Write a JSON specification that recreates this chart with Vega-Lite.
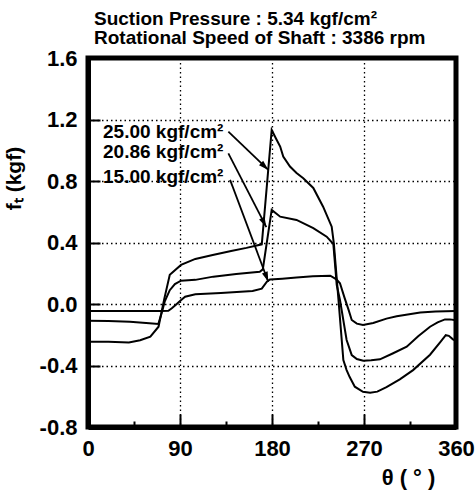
{
  "$schema": "https://vega.github.io/schema/vega-lite/v6.json",
  "width": 368,
  "height": 369,
  "autosize": {"type": "none"},
  "padding": {"left": 88, "top": 58, "right": 20, "bottom": 64},
  "background": "white",
  "title": {
    "text": ["Suction Pressure : 5.34 kgf/cm²", "Rotational Speed of Shaft : 3386 rpm"],
    "anchor": "start",
    "frame": "group",
    "dx": 6,
    "offset": -1,
    "fontSize": 19,
    "fontWeight": "bold",
    "lineHeight": 19,
    "color": "black",
    "font": "Liberation Sans"
  },
  "config": {
    "font": "Liberation Sans",
    "view": {"stroke": "black", "strokeWidth": 5},
    "axis": {
      "labelFont": "Liberation Sans",
      "labelFontSize": 22,
      "labelFontWeight": "bold",
      "labelColor": "black",
      "titleFont": "Liberation Sans",
      "titleFontSize": 21,
      "titleFontWeight": "bold",
      "titleColor": "black",
      "tickColor": "black",
      "gridColor": "black",
      "gridDash": [1.5, 3],
      "gridWidth": 1.3
    }
  },
  "datasets": {
    "curves": [
      {"p": "25.00", "theta": 0, "f": -0.245},
      {"p": "25.00", "theta": 20, "f": -0.245},
      {"p": "25.00", "theta": 40, "f": -0.25},
      {"p": "25.00", "theta": 51, "f": -0.236},
      {"p": "25.00", "theta": 61, "f": -0.213},
      {"p": "25.00", "theta": 69, "f": -0.148},
      {"p": "25.00", "theta": 74.5, "f": 0.03},
      {"p": "25.00", "theta": 80, "f": 0.19},
      {"p": "25.00", "theta": 91, "f": 0.254},
      {"p": "25.00", "theta": 105, "f": 0.293},
      {"p": "25.00", "theta": 122, "f": 0.319},
      {"p": "25.00", "theta": 140, "f": 0.345},
      {"p": "25.00", "theta": 155, "f": 0.365},
      {"p": "25.00", "theta": 170, "f": 0.388},
      {"p": "25.00", "theta": 179.7, "f": 1.132},
      {"p": "25.00", "theta": 184, "f": 1.075},
      {"p": "25.00", "theta": 188, "f": 1.024},
      {"p": "25.00", "theta": 191, "f": 0.959},
      {"p": "25.00", "theta": 197.6, "f": 0.894},
      {"p": "25.00", "theta": 204, "f": 0.852},
      {"p": "25.00", "theta": 210.6, "f": 0.818},
      {"p": "25.00", "theta": 220.4, "f": 0.755},
      {"p": "25.00", "theta": 230, "f": 0.633},
      {"p": "25.00", "theta": 238.4, "f": 0.503},
      {"p": "25.00", "theta": 240.5, "f": 0.395},
      {"p": "25.00", "theta": 245, "f": 0.03},
      {"p": "25.00", "theta": 249.8, "f": -0.364},
      {"p": "25.00", "theta": 253, "f": -0.43},
      {"p": "25.00", "theta": 256, "f": -0.475},
      {"p": "25.00", "theta": 261, "f": -0.538},
      {"p": "25.00", "theta": 269, "f": -0.571},
      {"p": "25.00", "theta": 276, "f": -0.577},
      {"p": "25.00", "theta": 283, "f": -0.57},
      {"p": "25.00", "theta": 292, "f": -0.54},
      {"p": "25.00", "theta": 305, "f": -0.49},
      {"p": "25.00", "theta": 318, "f": -0.43},
      {"p": "25.00", "theta": 334.6, "f": -0.33},
      {"p": "25.00", "theta": 345, "f": -0.245},
      {"p": "25.00", "theta": 350, "f": -0.203},
      {"p": "25.00", "theta": 353, "f": -0.207},
      {"p": "25.00", "theta": 357, "f": -0.23},
      {"p": "25.00", "theta": 360, "f": -0.24},
      {"p": "20.86", "theta": 0, "f": -0.109},
      {"p": "20.86", "theta": 20, "f": -0.11},
      {"p": "20.86", "theta": 41, "f": -0.115},
      {"p": "20.86", "theta": 60, "f": -0.125},
      {"p": "20.86", "theta": 68.8, "f": -0.13},
      {"p": "20.86", "theta": 72, "f": -0.06},
      {"p": "20.86", "theta": 75, "f": 0.015},
      {"p": "20.86", "theta": 80, "f": 0.09},
      {"p": "20.86", "theta": 85, "f": 0.13},
      {"p": "20.86", "theta": 91, "f": 0.152},
      {"p": "20.86", "theta": 105, "f": 0.157},
      {"p": "20.86", "theta": 122.6, "f": 0.178},
      {"p": "20.86", "theta": 145, "f": 0.195},
      {"p": "20.86", "theta": 168, "f": 0.21},
      {"p": "20.86", "theta": 171, "f": 0.225},
      {"p": "20.86", "theta": 179.7, "f": 0.612},
      {"p": "20.86", "theta": 188, "f": 0.568},
      {"p": "20.86", "theta": 204, "f": 0.547},
      {"p": "20.86", "theta": 220.4, "f": 0.493},
      {"p": "20.86", "theta": 233.5, "f": 0.438},
      {"p": "20.86", "theta": 240, "f": 0.39},
      {"p": "20.86", "theta": 243.3, "f": 0.124},
      {"p": "20.86", "theta": 246.5, "f": 0.026},
      {"p": "20.86", "theta": 253, "f": -0.234},
      {"p": "20.86", "theta": 258, "f": -0.332},
      {"p": "20.86", "theta": 263, "f": -0.358},
      {"p": "20.86", "theta": 269.3, "f": -0.369},
      {"p": "20.86", "theta": 277, "f": -0.366},
      {"p": "20.86", "theta": 285.6, "f": -0.36},
      {"p": "20.86", "theta": 298, "f": -0.322},
      {"p": "20.86", "theta": 311.8, "f": -0.278},
      {"p": "20.86", "theta": 323, "f": -0.21},
      {"p": "20.86", "theta": 334.6, "f": -0.148},
      {"p": "20.86", "theta": 342, "f": -0.12},
      {"p": "20.86", "theta": 349.2, "f": -0.1},
      {"p": "20.86", "theta": 354, "f": -0.1},
      {"p": "20.86", "theta": 360, "f": -0.105},
      {"p": "15.00", "theta": 0, "f": -0.046},
      {"p": "15.00", "theta": 30, "f": -0.046},
      {"p": "15.00", "theta": 60, "f": -0.046},
      {"p": "15.00", "theta": 72, "f": -0.046},
      {"p": "15.00", "theta": 78.6, "f": -0.044},
      {"p": "15.00", "theta": 82, "f": -0.028},
      {"p": "15.00", "theta": 86, "f": -0.005},
      {"p": "15.00", "theta": 90, "f": 0.02},
      {"p": "15.00", "theta": 95, "f": 0.047},
      {"p": "15.00", "theta": 105, "f": 0.063},
      {"p": "15.00", "theta": 130, "f": 0.072},
      {"p": "15.00", "theta": 161, "f": 0.085},
      {"p": "15.00", "theta": 170, "f": 0.1},
      {"p": "15.00", "theta": 175, "f": 0.145},
      {"p": "15.00", "theta": 178, "f": 0.16},
      {"p": "15.00", "theta": 190, "f": 0.165},
      {"p": "15.00", "theta": 204, "f": 0.172},
      {"p": "15.00", "theta": 220, "f": 0.18},
      {"p": "15.00", "theta": 237, "f": 0.184},
      {"p": "15.00", "theta": 243, "f": 0.16},
      {"p": "15.00", "theta": 246.5, "f": 0.135},
      {"p": "15.00", "theta": 251, "f": 0.04},
      {"p": "15.00", "theta": 255, "f": -0.04},
      {"p": "15.00", "theta": 258, "f": -0.104},
      {"p": "15.00", "theta": 263, "f": -0.128},
      {"p": "15.00", "theta": 269, "f": -0.137},
      {"p": "15.00", "theta": 279, "f": -0.124},
      {"p": "15.00", "theta": 292, "f": -0.095},
      {"p": "15.00", "theta": 302, "f": -0.08},
      {"p": "15.00", "theta": 325, "f": -0.055},
      {"p": "15.00", "theta": 340, "f": -0.048},
      {"p": "15.00", "theta": 360, "f": -0.046}
    ],
    "arrows": [
      {"id": "25.00", "pt": "start", "theta": 137.3, "f": 1.121},
      {"id": "25.00", "pt": "tip", "theta": 176.4, "f": 0.872},
      {"id": "20.86", "pt": "start", "theta": 137.3, "f": 0.98},
      {"id": "20.86", "pt": "tip", "theta": 174.5, "f": 0.5},
      {"id": "15.00", "pt": "start", "theta": 139, "f": 0.807},
      {"id": "15.00", "pt": "tip", "theta": 176.4, "f": 0.145}
    ],
    "labels": [
      {"theta": 14.7, "f": 1.121, "text": "25.00 kgf/cm²"},
      {"theta": 14.7, "f": 0.99, "text": "20.86 kgf/cm²"},
      {"theta": 14.7, "f": 0.828, "text": "15.00 kgf/cm²"}
    ]
  },
  "layer": [
    {
      "data": {"name": "curves"},
      "mark": {"type": "line", "color": "black", "strokeWidth": 2},
      "encoding": {
        "x": {
          "field": "theta", "type": "quantitative",
          "scale": {"domain": [0, 360], "nice": false, "zero": false},
          "axis": {
            "orient": "bottom",
            "values": [0, 45, 90, 135, 180, 225, 270, 315, 360],
            "labelExpr": "datum.value % 90 === 0 ? datum.label : ''",
            "grid": true,
            "gridOpacity": {"condition": {"test": "datum.value % 90 === 0", "value": 1}, "value": 0},
            "ticks": true,
            "tickWidth": 2,
            "tickSize": {"condition": {"test": "datum.value % 90 === 0", "value": -13}, "value": -6},
            "domain": true, "domainWidth": 5, "domainColor": "black",
            "labelPadding": 24,
            "labelFlush": false,
            "title": "θ ( ° )",
            "titleX": 320, "titleY": 50,
            "titleAlign": "center", "titleBaseline": "middle",
            "titleFontSize": 22
          }
        },
        "y": {
          "field": "f", "type": "quantitative",
          "scale": {"domain": [-0.8, 1.6], "nice": false, "zero": false},
          "axis": {
            "orient": "left",
            "values": [-0.8, -0.6, -0.4, -0.2, 0, 0.2, 0.4, 0.6, 0.8, 1.0, 1.2, 1.4, 1.6],
            "format": ".1f",
            "labelExpr": "abs(round(datum.value * 10)) % 4 === 0 ? replace(datum.label, '−', '-') : ''",
            "grid": true,
            "gridOpacity": {"condition": {"test": "abs(round(datum.value * 10)) % 4 === 0", "value": 1}, "value": 0},
            "ticks": true,
            "tickWidth": 2,
            "tickSize": {"condition": {"test": "abs(round(datum.value * 10)) % 4 === 0", "value": -12}, "value": -7},
            "domain": true, "domainWidth": 5, "domainColor": "black",
            "labelPadding": 23,
            "labelFlush": false,
            "title": "fₜ  (kgf)",
            "titleX": -74, "titleY": 120,
            "titleAngle": 270,
            "titleAlign": "center", "titleBaseline": "middle",
            "titleFontSize": 21
          }
        },
        "detail": {"field": "p", "type": "nominal"}
      }
    },
    {
      "data": {"name": "arrows"},
      "mark": {"type": "line", "color": "black", "strokeWidth": 1.8},
      "encoding": {
        "x": {"field": "theta", "type": "quantitative"},
        "y": {"field": "f", "type": "quantitative"},
        "detail": {"field": "id", "type": "nominal"}
      }
    },
    {
      "data": {"name": "arrows"},
      "transform": [{"filter": "datum.pt === 'tip' && datum.id === '25.00'"}],
      "mark": {"type": "point", "filled": true, "color": "black", "opacity": 1, "size": 100, "shape": "M0,0L0.6,2L-0.6,2Z", "angle": 133.8},
      "encoding": {
        "x": {"field": "theta", "type": "quantitative"},
        "y": {"field": "f", "type": "quantitative"}
      }
    },
    {
      "data": {"name": "arrows"},
      "transform": [{"filter": "datum.pt === 'tip' && datum.id === '20.86'"}],
      "mark": {"type": "point", "filled": true, "color": "black", "opacity": 1, "size": 100, "shape": "M0,0L0.6,2L-0.6,2Z", "angle": 152.7},
      "encoding": {
        "x": {"field": "theta", "type": "quantitative"},
        "y": {"field": "f", "type": "quantitative"}
      }
    },
    {
      "data": {"name": "arrows"},
      "transform": [{"filter": "datum.pt === 'tip' && datum.id === '15.00'"}],
      "mark": {"type": "point", "filled": true, "color": "black", "opacity": 1, "size": 100, "shape": "M0,0L0.6,2L-0.6,2Z", "angle": 159.4},
      "encoding": {
        "x": {"field": "theta", "type": "quantitative"},
        "y": {"field": "f", "type": "quantitative"}
      }
    },
    {
      "data": {"name": "labels"},
      "mark": {"type": "text", "align": "left", "baseline": "middle", "fontSize": 19, "fontWeight": "bold", "color": "black", "font": "Liberation Sans"},
      "encoding": {
        "x": {"field": "theta", "type": "quantitative"},
        "y": {"field": "f", "type": "quantitative"},
        "text": {"field": "text"}
      }
    }
  ]
}
